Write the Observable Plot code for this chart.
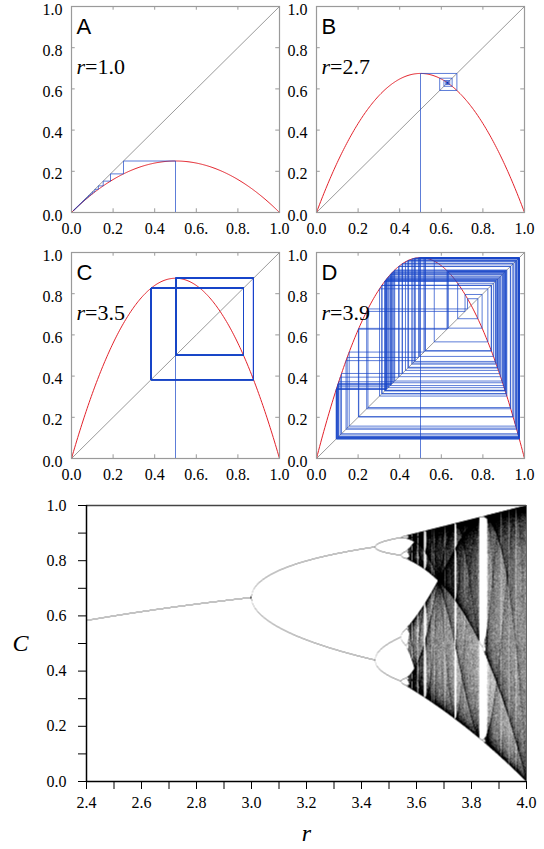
<!DOCTYPE html>
<html><head><meta charset="utf-8">
<script src="https://cdn.jsdelivr.net/npm/d3@7"></script>
<script src="https://cdn.jsdelivr.net/npm/@observablehq/plot@0.6"></script>
<style>
body{margin:0;background:#fff;}
#wrap{position:relative;width:544px;height:849px;overflow:hidden;background:#fff;}
.pane{position:absolute;}
</style></head><body><div id="wrap"></div>
<script>
// ---------- data ----------
const panelLetters = ["A", "B", "C", "D"];
const panelR = [1.0, 2.7, 3.5, 3.9];
const panelRText = ["=1.0", "=2.7", "=3.5", "=3.9"];
const cobwebStart = 0.5;
const cobwebIterations = 100;
const unitTicks = [0, 0.2, 0.4, 0.6, 0.8, 1.0];
const unitInnerTicks = [0.2, 0.4, 0.6, 0.8];
const unitXTickLabels = ["0.0", "0.2", "0.4", "0.6.", "0.8.", "1.0"];
const unitYTickLabels = ["0.0", "0.2", "0.4", "0.6", "0.8", "1.0"];
const bifRange = [2.4, 4.0];
const bifXTicks = [2.4, 2.5, 2.6, 2.7, 2.8, 2.9, 3.0, 3.1, 3.2, 3.3, 3.4, 3.5, 3.6, 3.7, 3.8, 3.9, 4.0];
const bifXTickLabels = ["2.4", "", "2.6", "", "2.8", "", "3.0", "", "3.2", "", "3.4", "", "3.6", "", "3.8", "", "4.0"];
const bifYTicks = [0, 0.1, 0.2, 0.3, 0.4, 0.5, 0.6, 0.7, 0.8, 0.9, 1.0];
const bifYTickLabels = ["0.0", "", "0.2", "", "0.4", "", "0.6", "", "0.8", "", "1.0"];
const bifStart = 0.5;
const bifTransient = 1000;
const bifSamples = 3000;
const bifXLabel = "r";
const bifYLabel = "C";

// ---------- helpers ----------
const SERIF = "'Liberation Serif', 'Times New Roman', serif";
const SANS = "'Liberation Sans', Arial, sans-serif";
const logistic = (r, x) => r * x * (1 - x);
const labelOf = (ticks, labels) => d => {
  const i = ticks.findIndex(t => Math.abs(t - d) < 1e-9);
  return i < 0 ? "" : labels[i];
};

function cobweb(r) {
  const segs = [];
  let x = cobwebStart;
  let y = logistic(r, x);
  segs.push({x1: x, y1: 0, x2: x, y2: y});
  for (let i = 0; i < cobwebIterations; i++) {
    segs.push({x1: x, y1: y, x2: y, y2: y});
    x = y; y = logistic(r, x);
    segs.push({x1: x, y1: x, x2: x, y2: y});
  }
  return segs;
}

const wrap = document.getElementById("wrap");
function place(svg, left, top, letter) {
  // force fonts on every text element: serif everywhere, the panel letter in sans
  svg.querySelectorAll("text").forEach(t => {
    const isLetter = letter != null && t.textContent.trim() === letter;
    t.style.fontFamily = isLetter ? SANS : SERIF;
  });
  const d = document.createElement("div");
  d.className = "pane";
  d.style.left = left + "px";
  d.style.top = top + "px";
  d.appendChild(svg);
  wrap.appendChild(d);
}

const baseStyle = `font-family: ${SERIF}; font-size: 16px; background: transparent; overflow: visible; color: black;`;
const hasAxisMarks = typeof Plot.axisX === "function" && typeof Plot.axisY === "function";

const paneLayout = [
  {left: 0, top: 0, width: 295, height: 245, ml: 71, mr: 16, mt: 6, mb: 33},
  {left: 270, top: 0, width: 274, height: 245, ml: 46, mr: 20, mt: 6, mb: 33},
  {left: 0, top: 245, width: 295, height: 245, ml: 71, mr: 16, mt: 7, mb: 32},
  {left: 270, top: 245, width: 274, height: 245, ml: 46, mr: 20, mt: 7, mb: 32}
];

const tickLen = 0.018;
const gridColor = "#9a9a9a";

panelLetters.forEach((letter, i) => {
  const r = panelR[i];
  const L = paneLayout[i];
  const curve = d3.range(0, 1.00001, 0.005).map(x => ({x, y: logistic(r, x)}));
  const axes = hasAxisMarks ? [
    Plot.axisX(unitTicks, {tickFormat: labelOf(unitTicks, unitXTickLabels), tickSize: 0, tickPadding: 10, label: null, fontSize: 16}),
    Plot.axisY(unitTicks, {tickFormat: labelOf(unitTicks, unitYTickLabels), tickSize: 0, tickPadding: 9, label: null, dy: 3, fontSize: 16})
  ] : [];
  const svg = Plot.plot({
    width: L.width, height: L.height,
    marginLeft: L.ml, marginRight: L.mr, marginTop: L.mt, marginBottom: L.mb,
    style: baseStyle,
    x: {domain: [0, 1], ticks: unitTicks, tickFormat: labelOf(unitTicks, unitXTickLabels), tickSize: 0, tickPadding: 10, label: null},
    y: {domain: [0, 1], ticks: unitTicks, tickFormat: labelOf(unitTicks, unitYTickLabels), tickSize: 0, tickPadding: 9, label: null},
    marks: [
      ...axes,
      Plot.ruleX(unitInnerTicks, {y1: 0, y2: tickLen, stroke: gridColor}),
      Plot.ruleX(unitInnerTicks, {y1: 1 - tickLen, y2: 1, stroke: gridColor}),
      Plot.ruleY(unitInnerTicks, {x1: 0, x2: tickLen, stroke: gridColor}),
      Plot.ruleY(unitInnerTicks, {x1: 1 - tickLen, x2: 1, stroke: gridColor}),
      Plot.line(unitTicks, {x: d => d, y: d => d, stroke: gridColor, strokeWidth: 1}),
      Plot.line(curve, {x: "x", y: "y", stroke: "#e3222b", strokeWidth: 1}),
      Plot.link(cobweb(r), {x1: "x1", y1: "y1", x2: "x2", y2: "y2", stroke: "#1846c8", strokeOpacity: 0.7, strokeWidth: 1}),
      Plot.frame({stroke: gridColor, strokeWidth: 1.2}),
      Plot.text([letter], {frameAnchor: "top-left", dx: 5, dy: 20, text: d => d, textAnchor: "start", lineAnchor: "middle", fontFamily: SANS, fontSize: 22}),
      Plot.text(["r"], {frameAnchor: "top-left", dx: 5, dy: 60, text: d => d, textAnchor: "start", lineAnchor: "middle", fontFamily: SERIF, fontStyle: "italic", fontSize: 22}),
      Plot.text([panelRText[i]], {frameAnchor: "top-left", dx: 13.5, dy: 60, text: d => d, textAnchor: "start", lineAnchor: "middle", fontFamily: SERIF, fontSize: 22})
    ]
  });
  place(svg, L.left, L.top, letter);
});

// ---------- bifurcation diagram ----------
const W = 440, H = 276, SS = 3;
const W2 = W * SS, H2 = H * SS;
const counts = new Float64Array(W2 * H2);
for (let c = 0; c < W2; c++) {
  const r = bifRange[0] + (c + 0.5) / W2 * (bifRange[1] - bifRange[0]);
  let x = bifStart;
  for (let t = 0; t < bifTransient; t++) x = logistic(r, x);
  for (let n = 0; n < bifSamples; n++) {
    x = logistic(r, x);
    let row = Math.floor((1 - x) * H2);
    if (row < 0) row = 0; if (row >= H2) row = H2 - 1;
    counts[row * W2 + c]++;
  }
}
const kSat = bifSamples / 500;
const density = new Float64Array(W * H);
for (let j = 0; j < H; j++) {
  for (let i = 0; i < W; i++) {
    let s = 0;
    for (let a = 0; a < SS; a++) for (let b = 0; b < SS; b++) {
      s += 1 - Math.exp(-counts[(j * SS + a) * W2 + i * SS + b] / kSat);
    }
    density[j * W + i] = Math.min(1, 1.4 * s / (SS * SS));
  }
}

const bif = Plot.plot({
  width: 544, height: 359,
  marginLeft: 86, marginRight: 18, marginTop: 15, marginBottom: 68,
  style: baseStyle,
  color: {type: "linear", domain: [0, 1], range: ["#ffffff", "#000000"]},
  x: {domain: bifRange, ticks: bifXTicks, tickFormat: labelOf(bifXTicks, bifXTickLabels), tickSize: 8, tickPadding: 7, label: null},
  y: {domain: [0, 1], ticks: bifYTicks, tickFormat: labelOf(bifYTicks, bifYTickLabels), tickSize: 8, tickPadding: 12, label: null},
  marks: [
    Plot.raster(density, {width: W, height: H, x1: bifRange[0], x2: bifRange[1], y1: 1, y2: 0, fill: d => d}),
    Plot.ruleY([1], {stroke: "#444", strokeWidth: 1.5}),
    Plot.ruleX([bifRange[1]], {stroke: "#666", strokeWidth: 1}),
    Plot.ruleY([0], {stroke: "black", strokeWidth: 1.5}),
    Plot.ruleX([bifRange[0]], {stroke: "black", strokeWidth: 1.5}),
    Plot.text([bifYLabel], {frameAnchor: "left", dx: -66, text: d => d, textAnchor: "middle", lineAnchor: "middle", fontFamily: SERIF, fontStyle: "italic", fontSize: 24}),
    Plot.text([bifXLabel], {frameAnchor: "bottom", dy: 52, text: d => d, textAnchor: "middle", lineAnchor: "middle", fontFamily: SERIF, fontStyle: "italic", fontSize: 24})
  ]
});
place(bif, 0, 490, null);
</script></body></html>
